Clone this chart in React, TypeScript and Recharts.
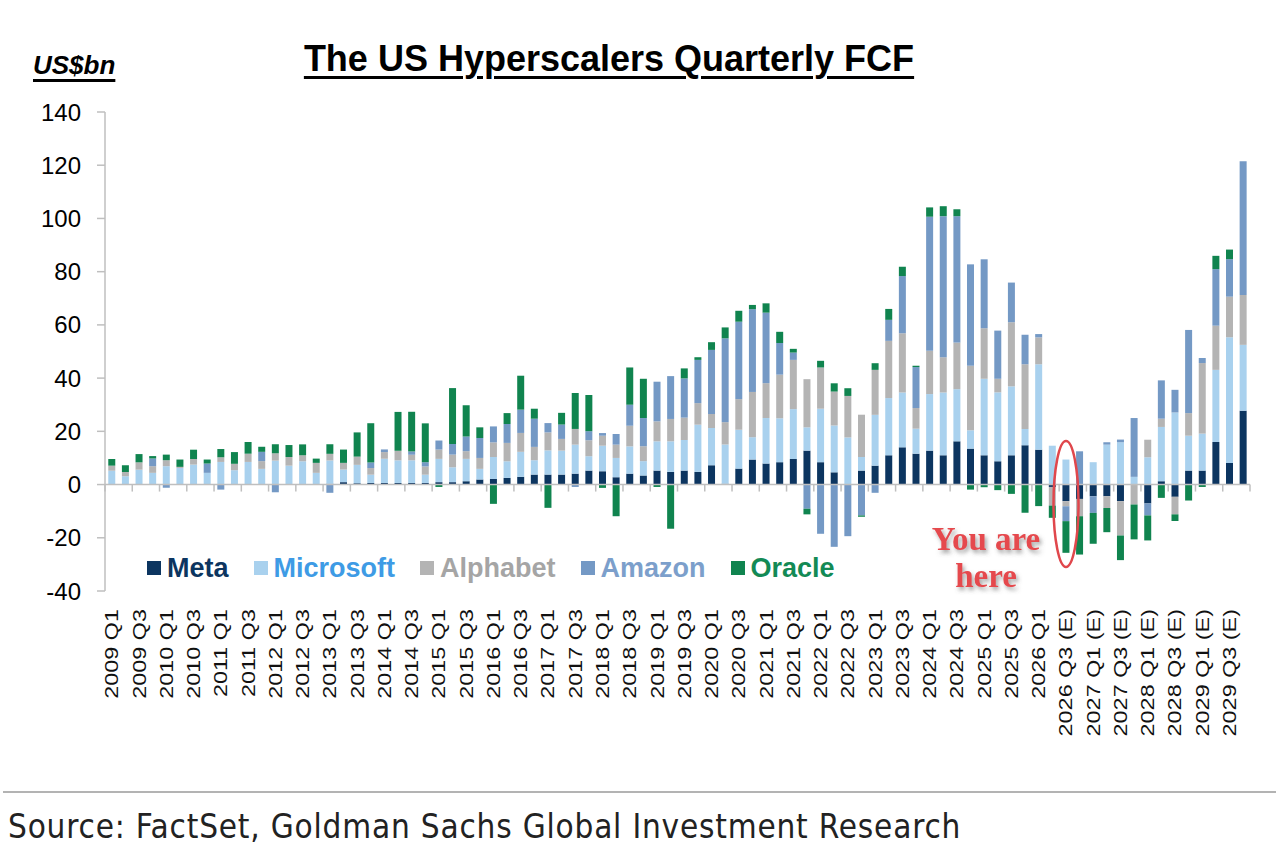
import React from "react";
import { Bar, BarChart, ReferenceLine, XAxis, YAxis } from "recharts";

// quarters, 2009 Q1 .. 2029 Q4 (E)
const quarters = [
  "2009 Q1", "2009 Q2", "2009 Q3", "2009 Q4",
  "2010 Q1", "2010 Q2", "2010 Q3", "2010 Q4",
  "2011 Q1", "2011 Q2", "2011 Q3", "2011 Q4",
  "2012 Q1", "2012 Q2", "2012 Q3", "2012 Q4",
  "2013 Q1", "2013 Q2", "2013 Q3", "2013 Q4",
  "2014 Q1", "2014 Q2", "2014 Q3", "2014 Q4",
  "2015 Q1", "2015 Q2", "2015 Q3", "2015 Q4",
  "2016 Q1", "2016 Q2", "2016 Q3", "2016 Q4",
  "2017 Q1", "2017 Q2", "2017 Q3", "2017 Q4",
  "2018 Q1", "2018 Q2", "2018 Q3", "2018 Q4",
  "2019 Q1", "2019 Q2", "2019 Q3", "2019 Q4",
  "2020 Q1", "2020 Q2", "2020 Q3", "2020 Q4",
  "2021 Q1", "2021 Q2", "2021 Q3", "2021 Q4",
  "2022 Q1", "2022 Q2", "2022 Q3", "2022 Q4",
  "2023 Q1", "2023 Q2", "2023 Q3", "2023 Q4",
  "2024 Q1", "2024 Q2", "2024 Q3", "2024 Q4",
  "2025 Q1", "2025 Q2", "2025 Q3", "2025 Q4",
  "2026 Q1", "2026 Q2", "2026 Q3 (E)", "2026 Q4 (E)",
  "2027 Q1 (E)", "2027 Q2 (E)", "2027 Q3 (E)", "2027 Q4 (E)",
  "2028 Q1 (E)", "2028 Q2 (E)", "2028 Q3 (E)", "2028 Q4 (E)",
  "2029 Q1 (E)", "2029 Q2 (E)", "2029 Q3 (E)", "2029 Q4 (E)",
];

// US$bn per quarter
const meta = [
  0, 0, 0, 0, 0, 0, 0, 0, 0, 0, 0, 0, 0, 0, 0, 0,
  0.3, 0.9, 0.5, 0.6,
  0.6, 0.6, 0.6, 0.6,
  0.9, 0.9, 1.25, 1.9,
  2.1, 2.5, 2.9, 3.75,
  3.75, 3.75, 4.1, 5.25,
  5, 2.75, 4.1, 3.4,
  5.25, 4.75, 5.25, 4.75,
  7.25, 0.3, 6, 9.4,
  7.9, 8.4, 9.6, 12.75,
  8.4, 4.6, 0.2, 5.25,
  7.1, 11, 14, 11.6,
  12.75, 11, 16.25, 13.5,
  11, 8.75, 11, 14.75,
  13.1, -0.9, -6.25, -5.4,
  -4.4, -4.4, -6.25, 0,
  -7.1, 1.25, -4.6, 5.25,
  5.25, 16, 8.1, 27.75,
];

const microsoft = [
  5.2, 3.1, 5.6, 4.4,
  6.9, 6.25, 7.5, 4.4,
  8.5, 5.4, 8.5, 5.9,
  9, 7.1, 8.75, 4.4,
  8.75, 4.75, 6.9, 3.1,
  9.1, 8.5, 8.5, 3.1,
  8.75, 5.6, 8.4, 4,
  8.25, 6.25, 9.4, 5.4,
  9.1, 9, 10.9, 5.4,
  9.6, 7.25, 10.25, 5.4,
  11, 11.5, 11.5, 17.75,
  14, 14.75, 14.6, 8.4,
  17.1, 16.5, 18.75, 8.75,
  20.1, 17.6, 17.5, 5.1,
  19.1, 21.5, 20.6, 9.4,
  21.25, 23.6, 19.6, 6.9,
  28.75, 25.9, 25.9, 6.1,
  32.1, 14.6, 9.4, 0,
  8.4, 15, 15.9, 2.9,
  10.25, 20.4, 27.1, 13.1,
  13.9, 27.1, 47.25, 24.75,
];

const alphabet = [
  1.9, 1.6, 2.75, 2.5,
  2.25, 0.4, 2.1, 0,
  1.75, 2.4, 3.1, 2.9,
  2.75, 3.25, 2.25, 3.75,
  2.5, 2.5, 3.1, 2.5,
  2.5, 3.6, 2.1, 3.1,
  3.5, 4.75, 2.9, 4.1,
  5.5, 6.9, 7.1, 5,
  6.75, 4.4, 5.9, 6,
  3.75, 5, 7.75, 5.6,
  7.5, 8.4, 8.4, 8.1,
  5.25, 8.4, 11.5, 17,
  13.1, 16.4, 18.5, 18.1,
  15.5, 12.75, 15.6, 15.9,
  16.9, 21.5, 22.25, 7.75,
  16.25, 13.25, 17.5, 24.25,
  19, 5.1, 24.1, 24.4,
  10.1, -7, -1.9, -6.5,
  0, -4.4, -12.9, -7.5,
  6.6, 3.1, -6.6, 8.5,
  26.5, 16.6, 15.25, 18.75,
];

const amazon = [
  0, 0, 0, 2.9,
  -1.2, 0, 0, 3.5,
  -1.9, 0, 0, 3.5,
  -2.9, 0, 0, 0,
  -3.1, 0, 0, 2.1,
  1, 0, 1.25, 1.6,
  3.4, 4, 5.5, 7.5,
  6, 7.1, 8.75, 10.6,
  3.5, 5.4, -0.9, 3.4,
  1, 4, 7.9, 10.6,
  14.9, 16.1, 14.75, 16.25,
  24.1, 31.5, 29.1, 31.1,
  26.5, 11.9, 2.75, -9.1,
  -18.5, -23.4, -19.4, -11.6,
  -3.1, 7.9, 21.5, 15.4,
  50.4, 53, 47.5, 38.1,
  25.9, 18.1, 14.9, 11,
  1.25, 0, -5.6, 12.5,
  -6.25, 0.9, 1, 22.1,
  -4.5, 14.4, 8.5, 31.25,
  1.9, 21.25, 14.1, 50.25,
];

const oracle = [
  2.5, 2.6, 3.1, 0.9,
  2.1, 2.75, 3.5, 1.5,
  3.1, 4.4, 4.4, 1.9,
  3.4, 4.5, 4.1, 1.6,
  3.6, 5, 9.1, 14.75,
  0, 14.6, 14.9, 14.6,
  -0.9, 21, 11.75, 4,
  -7.25, 4.1, 12.75, 3.75,
  -8.75, 4.4, 13.5, 13.6,
  -1.25, -11.9, 14, 14.75,
  -0.9, -16.6, 3.75, 1,
  2.9, 4.1, 4.1, 1.6,
  3.5, 4.2, 1.4, -2.1,
  2.5, 3.1, 2.9, -0.5,
  2.5, 4.1, 3.5, 0.5,
  3.5, 3.75, 2.6, -1.9,
  -1, -2.1, -3.5, -10.6,
  -8.1, -4.6, -11.9, -14.4,
  -11.6, -9.1, -9.25, -13.1,
  -9.4, -5, -2.5, -6,
  -0.9, 5, 3.6, 0,
];

const yTicks = [-40, -20, 0, 20, 40, 60, 80, 100, 120, 140];

const series = [
  { key: "meta", name: "Meta", fill: "#0c3560", text: "#0c3560" },
  { key: "microsoft", name: "Microsoft", fill: "#a9d1ee", text: "#3e9be5" },
  { key: "alphabet", name: "Alphabet", fill: "#b4b4b4", text: "#a5a5a5" },
  { key: "amazon", name: "Amazon", fill: "#7499c5", text: "#7c9fcb" },
  { key: "oracle", name: "Oracle", fill: "#10844f", text: "#138a55" },
];

const data = quarters.map((quarter, i) => ({
  quarter,
  meta: meta[i],
  microsoft: microsoft[i],
  alphabet: alphabet[i],
  amazon: amazon[i],
  oracle: oracle[i],
}));

const axisGrey = "#bfbfbf";
const arial = "'Liberation Sans', Arial, sans-serif";

const QuarterTick = ({ x, y, payload }: any) => (
  <g transform={`translate(${x},${y})`}>
    <text
      transform="rotate(-90) scale(1.3,1)"
      textAnchor="end"
      dominantBaseline="central"
      fontSize={18}
      fontFamily={arial}
      fill="#111"
    >
      {payload.value}
    </text>
  </g>
);

// zero line with small ticks every second quarter
const ZeroLine = (props: any) => {
  const { x1, y1, x2 } = props;
  const step = ((x2 - x1) / quarters.length) * 2;
  const marks: number[] = [];
  for (let k = 0; k <= quarters.length / 2; k++) marks.push(x1 + k * step);
  return (
    <g>
      <line x1={x1} y1={y1} x2={x2} y2={y1} stroke={axisGrey} strokeWidth={1.5} />
      {marks.map((mx) => (
        <line key={mx} x1={mx} x2={mx} y1={y1} y2={y1 + 7} stroke={axisGrey} strokeWidth={1.5} />
      ))}
    </g>
  );
};

export default function App() {
  return (
    <div
      style={{
        position: "absolute",
        left: 0,
        top: 0,
        width: 1276,
        height: 858,
        background: "#fff",
        fontFamily: arial,
        overflow: "hidden",
      }}
    >
      <div
        style={{
          position: "absolute",
          left: 33,
          top: 52,
          fontSize: 26,
          lineHeight: "26px",
          fontWeight: "bold",
          fontStyle: "italic",
          textDecoration: "underline",
          textDecorationThickness: "3px",
          textUnderlineOffset: "5px",
          color: "#000",
        }}
      >
        US$bn
      </div>
      <div
        style={{
          position: "absolute",
          left: 0,
          width: 1218,
          top: 41,
          textAlign: "center",
          fontSize: 36,
          lineHeight: "36px",
          fontWeight: "bold",
          textDecoration: "underline",
          textDecorationThickness: "3px",
          textUnderlineOffset: "5px",
          color: "#000",
        }}
      >
        The US Hyperscalers Quarterly FCF
      </div>

      <div style={{ position: "absolute", left: 0, top: 0 }}>
        <BarChart
          width={1276}
          height={760}
          data={data}
          stackOffset="sign"
          barCategoryGap="24%"
          margin={{ top: 112, right: 26, bottom: 0, left: 0 }}
        >
          <XAxis
            dataKey="quarter"
            interval={1}
            axisLine={false}
            tickLine={false}
            tickSize={0}
            tickMargin={18}
            height={169}
            tick={<QuarterTick />}
          />
          <YAxis
            width={105}
            domain={[-40, 140]}
            ticks={yTicks}
            axisLine={{ stroke: axisGrey, strokeWidth: 1.5 }}
            tickLine={{ stroke: axisGrey, strokeWidth: 1.5 }}
            tickSize={8}
            tickMargin={16}
            tick={{ fontSize: 24, fill: "#000", fontFamily: arial }}
          />
          {series.map((s) => (
            <Bar
              key={s.key}
              dataKey={s.key}
              name={s.name}
              stackId="fcf"
              fill={s.fill}
              isAnimationActive={false}
            />
          ))}
          <ReferenceLine y={0} shape={<ZeroLine />} />
        </BarChart>
      </div>

      <div
        style={{
          position: "absolute",
          left: 147,
          top: 555,
          display: "flex",
          gap: 25,
          fontSize: 27,
          lineHeight: "26px",
          fontWeight: "bold",
        }}
      >
        {series.map((s) => (
          <div key={s.key} style={{ display: "flex", alignItems: "center", gap: 6 }}>
            <span style={{ width: 14, height: 14, background: s.fill, display: "inline-block" }} />
            <span style={{ color: s.text }}>{s.name}</span>
          </div>
        ))}
      </div>

      <svg
        width={1276}
        height={858}
        style={{ position: "absolute", left: 0, top: 0, pointerEvents: "none" }}
      >
        <defs>
          <filter id="shadow" x="-20%" y="-20%" width="140%" height="160%">
            <feDropShadow dx="2" dy="3" stdDeviation="2" floodColor="#555" floodOpacity="0.55" />
          </filter>
        </defs>
        <ellipse cx={1066} cy={504} rx={12.5} ry={63} fill="none" stroke="#e0474c" strokeWidth={2.5} />
        <g
          filter="url(#shadow)"
          fontFamily="'Liberation Serif', 'Times New Roman', serif"
          fontWeight="bold"
          fontSize={33}
          fill="#e5484d"
          textAnchor="middle"
        >
          <text x={986} y={550}>You are</text>
          <text x={986} y={587}>here</text>
        </g>
        <line x1={3} x2={1276} y1={792} y2={792} stroke="#9a9a9a" strokeWidth={1.5} />
        <text
          x={8}
          y={838}
          fontSize={33}
          letterSpacing={0.8}
          fontFamily="'DejaVu Sans Condensed', 'Liberation Sans', Arial, sans-serif"
          fill="#222"
        >
          Source: FactSet, Goldman Sachs Global Investment Research
        </text>
      </svg>
    </div>
  );
}
